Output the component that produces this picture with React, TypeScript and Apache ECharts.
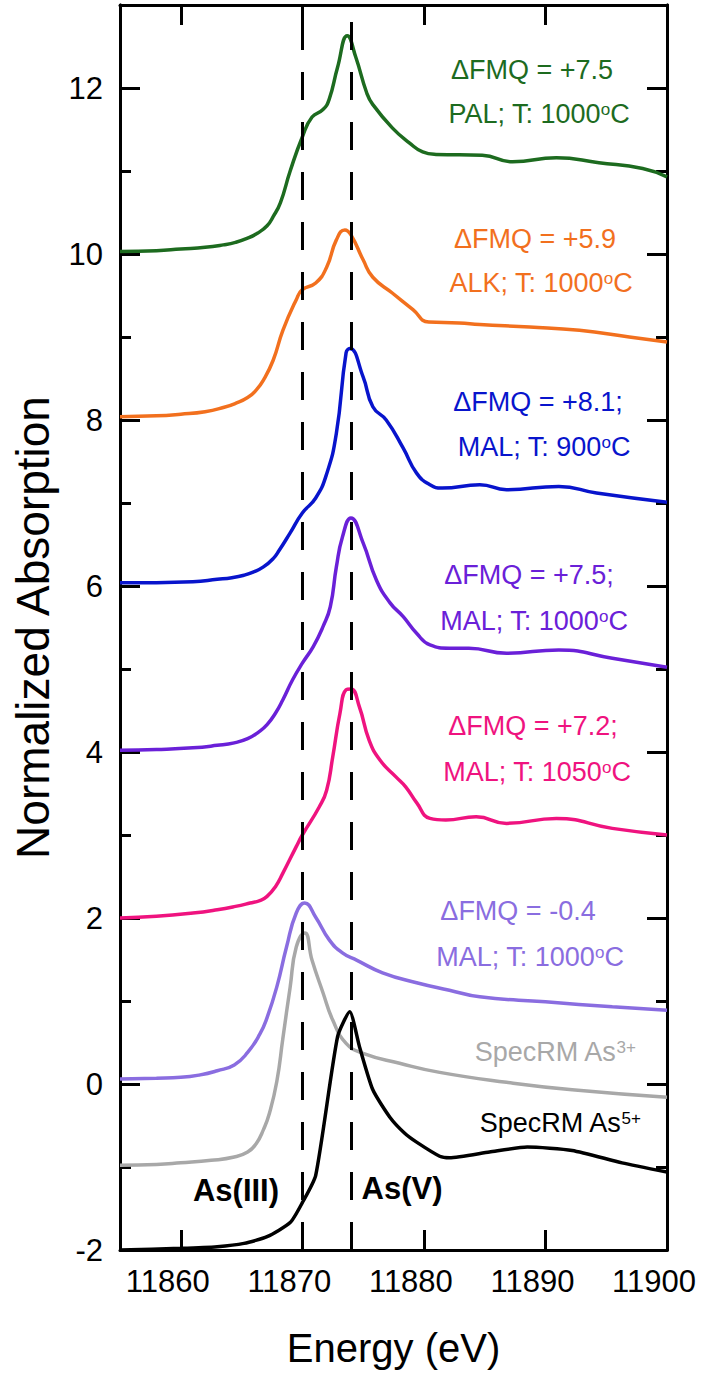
import React, { useEffect, useRef } from "react";
import * as echarts from "echarts";

// Axis ticks
const energyTicks = [11860, 11870, 11880, 11890, 11900];
const majorTicks = [-2, 0, 2, 4, 6, 8, 10, 12];
const minorTicks = [-1, 1, 3, 5, 7, 9, 11];
// As(III) and As(V) white-line energies (eV)
const edgeEnergies = [11870, 11874];

// Spectra, offset vertically: [energy eV, normalized absorption]
const palFmq75: [number, number][] = [
  [11855, 10.03], [11858, 10.04], [11860, 10.06], [11862, 10.08], [11863.5, 10.11],
  [11864.5, 10.14], [11865.5, 10.19], [11866.3, 10.25], [11867.1, 10.34], [11867.6, 10.45],
  [11868.2, 10.62], [11869, 11.0], [11870, 11.41], [11870.8, 11.65], [11871.7, 11.74],
  [11872.2, 11.86], [11872.9, 12.25], [11873.7, 12.63], [11874.4, 12.37], [11875.3, 11.94],
  [11875.8, 11.8], [11877.4, 11.52], [11878.8, 11.34], [11879.9, 11.23], [11881, 11.2],
  [11884.8, 11.19], [11887.3, 11.11], [11890.9, 11.16], [11894.4, 11.1], [11898, 11.03],
  [11900, 10.93],
];
const alkFmq59: [number, number][] = [
  [11855, 8.04], [11858, 8.05], [11860, 8.07], [11862, 8.1], [11863.5, 8.15],
  [11864.5, 8.2], [11865.5, 8.27], [11866.2, 8.36], [11866.8, 8.48], [11867.6, 8.72],
  [11868.4, 9.08], [11869.5, 9.45], [11870, 9.57], [11871.1, 9.65], [11872, 9.84],
  [11872.8, 10.17], [11873.5, 10.29], [11874, 10.23], [11875, 9.93], [11875.8, 9.72],
  [11877.4, 9.53], [11879.1, 9.33], [11880.4, 9.18], [11882.9, 9.17], [11884.6, 9.15],
  [11888.7, 9.12], [11892.8, 9.08], [11896.9, 9.0], [11900, 8.94],
];
const malFmq81: [number, number][] = [
  [11855, 6.04], [11858, 6.04], [11861, 6.05], [11863, 6.08], [11864.2, 6.1],
  [11865.2, 6.13], [11866, 6.17], [11866.8, 6.23], [11867.6, 6.33], [11868.1, 6.43],
  [11869, 6.64], [11870, 6.88], [11871.1, 7.06], [11872, 7.35], [11872.8, 7.84],
  [11873.6, 8.81], [11873.9, 8.86], [11875, 8.52], [11875.8, 8.16], [11876.9, 8.0],
  [11878.3, 7.66], [11879.4, 7.36], [11880.5, 7.22], [11881.5, 7.18], [11884.6, 7.22],
  [11886.8, 7.16], [11891.1, 7.2], [11894.2, 7.12], [11900, 7.01],
];
const malFmq75: [number, number][] = [
  [11855, 4.02], [11858, 4.03], [11861, 4.05], [11863, 4.08], [11864.4, 4.11],
  [11865.5, 4.16], [11866.4, 4.24], [11867.1, 4.33], [11867.8, 4.47], [11868.4, 4.63],
  [11869.2, 4.87], [11870, 5.07], [11870.9, 5.27], [11871.7, 5.51], [11872.3, 5.75],
  [11872.8, 6.23], [11873.3, 6.59], [11874, 6.82], [11875, 6.52], [11876.1, 6.07],
  [11877.2, 5.8], [11878.3, 5.63], [11879.4, 5.43], [11880.5, 5.29], [11882.1, 5.25],
  [11883.7, 5.25], [11886.8, 5.19], [11891.1, 5.23], [11895.5, 5.13], [11900, 5.02],
];
const malFmq72: [number, number][] = [
  [11855, 2.0], [11858, 2.02], [11861, 2.06], [11863, 2.1], [11864.5, 2.14],
  [11865.7, 2.18], [11866.5, 2.21], [11867.1, 2.26], [11867.8, 2.38], [11868.4, 2.54],
  [11869.5, 2.86], [11870, 3.0], [11871.4, 3.34], [11872, 3.54], [11872.5, 3.94],
  [11873.1, 4.47], [11873.6, 4.75], [11874, 4.76], [11874.7, 4.54], [11875.5, 4.14],
  [11876.4, 3.9], [11877.7, 3.7], [11878.5, 3.58], [11879.4, 3.39], [11880.5, 3.2],
  [11881.8, 3.18], [11884.3, 3.22], [11886.8, 3.14], [11890.9, 3.2], [11895.5, 3.08],
  [11900, 3.0],
];
const malFmqM04: [number, number][] = [
  [11855, 0.06], [11858, 0.07], [11860, 0.08], [11861.6, 0.11], [11863, 0.16],
  [11864.4, 0.23], [11865.5, 0.38], [11866.5, 0.6], [11867.1, 0.8], [11867.9, 1.17],
  [11868.7, 1.65], [11869.5, 2.06], [11870.2, 2.18], [11871.1, 2.01], [11872.2, 1.74],
  [11873.3, 1.58], [11874.5, 1.49], [11876.6, 1.34], [11879.4, 1.22], [11882.1, 1.13],
  [11884.6, 1.05], [11890, 0.99], [11895.5, 0.93], [11900, 0.89],
];
const specRmAs3: [number, number][] = [
  [11855, -0.98], [11858, -0.97], [11860, -0.95], [11862.5, -0.92], [11864.4, -0.88],
  [11865.5, -0.82], [11866.2, -0.72], [11866.8, -0.55], [11867.3, -0.35], [11867.9, 0.03],
  [11868.4, 0.55], [11869, 1.17], [11869.5, 1.65], [11870.2, 1.82], [11870.8, 1.49],
  [11871.7, 1.1], [11872.5, 0.77], [11873.6, 0.49], [11875, 0.37], [11878, 0.25],
  [11881.3, 0.14], [11886.8, 0.02], [11892.2, -0.07], [11900, -0.16],
];
const specRmAs5: [number, number][] = [
  [11855, -2.0], [11860, -1.98], [11863, -1.96], [11865.2, -1.92], [11867.1, -1.84],
  [11869, -1.67], [11870, -1.43], [11871.1, -1.1], [11872.9, 0.57], [11873.9, 0.87],
  [11874.7, 0.45], [11875.8, -0.07], [11877.2, -0.4], [11878.4, -0.59], [11879.4, -0.7],
  [11881.3, -0.87], [11882.1, -0.89], [11885.4, -0.82], [11888.5, -0.76], [11892.2, -0.8],
  [11896.3, -0.95], [11900, -1.06],
];

const FONT = "'Liberation Sans', Arial, Helvetica, sans-serif";

const C_GREEN = "#1d6b1f";
const C_ORANGE = "#f2701e";
const C_BLUE = "#0814cc";
const C_PURPLE = "#6a20d8";
const C_PINK = "#ef137f";
const C_LAVENDER = "#8a6de0";
const C_GRAY = "#a8a8a8";
const C_BLACK = "#000000";

function spectrum(name: string, data: [number, number][], color: string, smooth: number) {
  return {
    name,
    type: "line",
    data,
    xAxisIndex: 0,
    yAxisIndex: 0,
    symbol: "none",
    showSymbol: false,
    smooth,
    lineStyle: { color, width: 3.5 },
    z: 3,
  };
}

function note(x: number, y: number, text: string, color: string, size = 27, weight = "normal") {
  return {
    type: "text",
    x,
    y,
    z: 10,
    style: {
      text,
      fill: color,
      fontSize: size,
      fontFamily: FONT,
      fontWeight: weight,
      align: "center",
      verticalAlign: "middle",
      rich: {
        sup: { fontSize: 17, fontFamily: FONT, fill: color, verticalAlign: "top", lineHeight: size },
      },
    },
  };
}

const tickLine = { color: "#000", width: 3 };
const frameLine = { show: true, onZero: false, lineStyle: { color: "#000", width: 3 } };
const plain = (v: number) => String(v);

export default function App() {
  const ref = useRef<HTMLDivElement>(null);

  useEffect(() => {
    document.body.style.margin = "0";
    if (!ref.current) return;
    const chart = echarts.init(ref.current, undefined, { renderer: "svg" });

    const xBase = {
      type: "value",
      min: 11855,
      max: 11900,
      splitLine: { show: false },
      axisLine: frameLine,
    };
    const yBase = {
      type: "value",
      min: -2,
      max: 13,
      splitLine: { show: false },
      axisLine: frameLine,
    };

    const option = {
      animation: false,
      backgroundColor: "#ffffff",
      grid: { left: 120, right: 40, top: 5, bottom: 128, containLabel: false },
      xAxis: [
        {
          ...xBase,
          position: "bottom",
          axisTick: { show: true, inside: true, length: 20, lineStyle: tickLine, customValues: energyTicks },
          axisLabel: {
            customValues: energyTicks,
            formatter: plain,
            fontSize: 31,
            fontFamily: FONT,
            color: "#000",
            margin: 16,
            padding: [0, 26, 0, 0],
          },
          name: "Energy (eV)",
          nameLocation: "middle",
          nameGap: 78,
          nameTextStyle: { fontSize: 40, fontFamily: FONT, color: "#000" },
        },
        {
          ...xBase,
          position: "top",
          axisTick: { show: true, inside: true, length: 20, lineStyle: tickLine, customValues: energyTicks },
          axisLabel: { show: false },
        },
      ],
      yAxis: [
        {
          ...yBase,
          position: "left",
          axisTick: { show: true, inside: true, length: 20, lineStyle: tickLine, customValues: majorTicks },
          axisLabel: {
            customValues: majorTicks,
            formatter: plain,
            fontSize: 31,
            fontFamily: FONT,
            color: "#000",
            margin: 17,
          },
          name: "Normalized Absorption",
          nameLocation: "middle",
          nameGap: 64,
          nameTextStyle: { fontSize: 46, fontFamily: FONT, color: "#000" },
        },
        {
          ...yBase,
          position: "left",
          axisTick: { show: true, inside: true, length: 11, lineStyle: tickLine, customValues: minorTicks },
          axisLabel: { show: false },
        },
        {
          ...yBase,
          position: "right",
          axisTick: { show: true, inside: true, length: 20, lineStyle: tickLine, customValues: majorTicks },
          axisLabel: { show: false },
        },
        {
          ...yBase,
          position: "right",
          axisTick: { show: true, inside: true, length: 11, lineStyle: tickLine, customValues: minorTicks },
          axisLabel: { show: false },
        },
      ],
      series: [
        spectrum("PAL ΔFMQ +7.5", palFmq75, C_GREEN, 0.5),
        spectrum("ALK ΔFMQ +5.9", alkFmq59, C_ORANGE, 0.5),
        spectrum("MAL ΔFMQ +8.1", malFmq81, C_BLUE, 0.5),
        spectrum("MAL ΔFMQ +7.5", malFmq75, C_PURPLE, 0.5),
        spectrum("MAL ΔFMQ +7.2", malFmq72, C_PINK, 0.5),
        spectrum("MAL ΔFMQ -0.4", malFmqM04, C_LAVENDER, 0.5),
        spectrum("SpecRM As3+", specRmAs3, C_GRAY, 0.5),
        {
          ...spectrum("SpecRM As5+", specRmAs5, C_BLACK, 0.2),
          markLine: {
            silent: true,
            symbol: ["none", "none"],
            label: { show: false },
            lineStyle: { color: "#000", width: 3, type: [28, 22] },
            data: edgeEnergies.map((e) => ({ xAxis: e })),
            z: 5,
          },
        },
      ],
      graphic: {
        elements: [
          note(532, 70, "ΔFMQ = +7.5", C_GREEN),
          note(539, 114, "PAL; T: 1000{sup|o}C", C_GREEN),
          note(535, 239, "ΔFMQ = +5.9", C_ORANGE),
          note(541, 283, "ALK; T: 1000{sup|o}C", C_ORANGE),
          note(538, 402, "ΔFMQ = +8.1;", C_BLUE),
          note(544, 447, "MAL; T: 900{sup|o}C", C_BLUE),
          note(529, 575, "ΔFMQ = +7.5;", C_PURPLE),
          note(534, 621, "MAL; T: 1000{sup|o}C", C_PURPLE),
          note(533, 726, "ΔFMQ = +7.2;", C_PINK),
          note(537, 772, "MAL; T: 1050{sup|o}C", C_PINK),
          note(518, 911, "ΔFMQ = -0.4", C_LAVENDER),
          note(530, 957, "MAL; T: 1000{sup|o}C", C_LAVENDER),
          note(555, 1052, "SpecRM As{sup|3+}", C_GRAY),
          note(560, 1123, "SpecRM As{sup|5+}", C_BLACK),
          note(236, 1190, "As(III)", C_BLACK, 31, "bold"),
          note(402, 1188, "As(V)", C_BLACK, 31, "bold"),
        ],
      },
    };

    chart.setOption(option as any);
    return () => chart.dispose();
  }, []);

  return (
    <div
      ref={ref}
      style={{ position: "absolute", left: 0, top: 0, width: 707, height: 1378, background: "#fff" }}
    />
  );
}
